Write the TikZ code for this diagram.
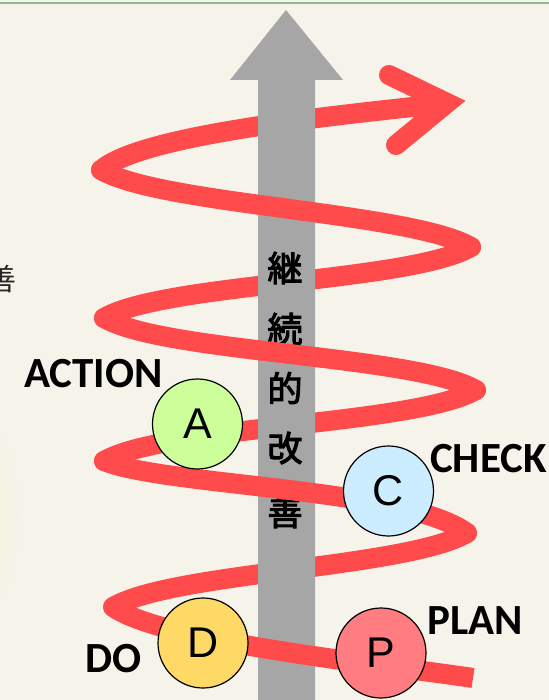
\documentclass[tikz,border=0pt]{standalone}
\usepackage{fontspec}
\setmainfont{Carlito}
\newfontfamily\letterfont{Liberation Sans}
\newfontfamily\cjkfont{Noto Sans CJK JP}
\newfontfamily\cjkheavy[FakeBold=3]{Noto Sans CJK JP}
\usetikzlibrary{positioning}

\definecolor{paper}{HTML}{F5F3EA}
\definecolor{spiralred}{HTML}{FF4B4B}
\definecolor{bargray}{HTML}{A6A6A6}
\definecolor{rulegreen}{HTML}{93B893}
\definecolor{actfill}{HTML}{CCFF99}
\definecolor{chkfill}{HTML}{CCECFF}
\definecolor{dofill}{HTML}{FFD966}
\definecolor{planfill}{HTML}{FF7C80}

\begin{document}
\begin{tikzpicture}[x=0.5pt, y=-0.5pt,
    spiral/.style={draw=spiralred, line width=10pt, line cap=round},
    stage/.style={circle, draw=black, line width=0.6pt, minimum size=45pt, inner sep=0pt,
                  font=\letterfont\fontsize{21.5}{22}\selectfont},
    phase/.style={inner sep=0pt, font=\bfseries\fontsize{21.5}{24}\selectfont},
    kanji/.style={inner sep=0pt, font=\cjkheavy\fontsize{17.5}{18}\selectfont}]
    \useasboundingbox (0,0) rectangle (549,700);
    \fill[paper] (0,0) rectangle (549,700);
    \shade[inner color=yellow!10!paper, outer color=paper] (-25,515) ellipse [x radius=45, y radius=100];
    \draw[rulegreen, line width=0.7pt] (0,3) -- (549,3);
    \node[inner sep=0pt, font=\cjkfont\fontsize{15}{15}\selectfont, text=black!85] (edgechar) at (2,279) {善};

    % turning points of the spiral
    \coordinate (l1) at (101,170);
    \coordinate (r1) at (471,247);
    \coordinate (l2) at (104,318);
    \coordinate (r2) at (476,390);
    \coordinate (l3) at (104,461);
    \coordinate (r3) at (467,533);
    \coordinate (l4) at (113,607);
    \coordinate (tail) at (473,678);
    \coordinate (shaft) at (440,104);
    \coordinate (tip) at (447,103);
    \coordinate (barbup) at (389,75);
    \coordinate (barbdown) at (396,145);

    % back half, behind the bar
    \draw[spiral] (l1) .. controls +(40,-35) and +(-110,12) .. (shaft);
    \draw[spiral, line join=miter] (barbup) -- (tip) -- (barbdown);
    \draw[spiral] (r1) .. controls +(-60,35) and +(60,-35) .. (l2);
    \draw[spiral] (r2) .. controls +(-60,35) and +(60,-35) .. (l3);
    \draw[spiral] (r3) .. controls +(-60,35) and +(60,-35) .. (l4);

    \fill[bargray] (258,705) -- (258,80) -- (230,80) -- (286,10) -- (343,80) -- (315,80) -- (315,705) -- cycle;
    \node[kanji] (k1) at (285,268) {継};
    \node[kanji] (k2) at (285,329) {続};
    \node[kanji] (k3) at (285,388) {的};
    \node[kanji] (k4) at (285,448) {改};
    \node[kanji] (k5) at (285,512) {善};

    % front half, over the bar
    \draw[spiral] (l1) .. controls +(60,35) and +(-60,-35) .. (r1);
    \draw[spiral] (l2) .. controls +(60,35) and +(-60,-35) .. (r2);
    \draw[spiral] (l3) .. controls +(60,25) and +(-60,-45) .. (r3);
    \draw[spiral, line cap=butt] (l4) .. controls +(50,35) and +(-100,-15) .. (tail);

    \node[stage, fill=actfill] (A) at (197.5,424) {A};
    \node[stage, fill=chkfill] (C) at (388.5,491) {C};
    \node[stage, fill=dofill] (D) at (203,643) {D};
    \node[stage, fill=planfill] (P) at (381,653) {P};

    \node[phase] (action) [above left=2pt and 1pt of A] {ACTION};
    \node[phase, anchor=west] (check) [right=4.5pt of C.north east] {CHECK};
    \node[phase, anchor=west] (plan) [right=7pt of P.north east] {PLAN};
    \node[phase] (do) [left=7.5pt of D.west, yshift=-8pt] {DO};
\end{tikzpicture}
\end{document}
